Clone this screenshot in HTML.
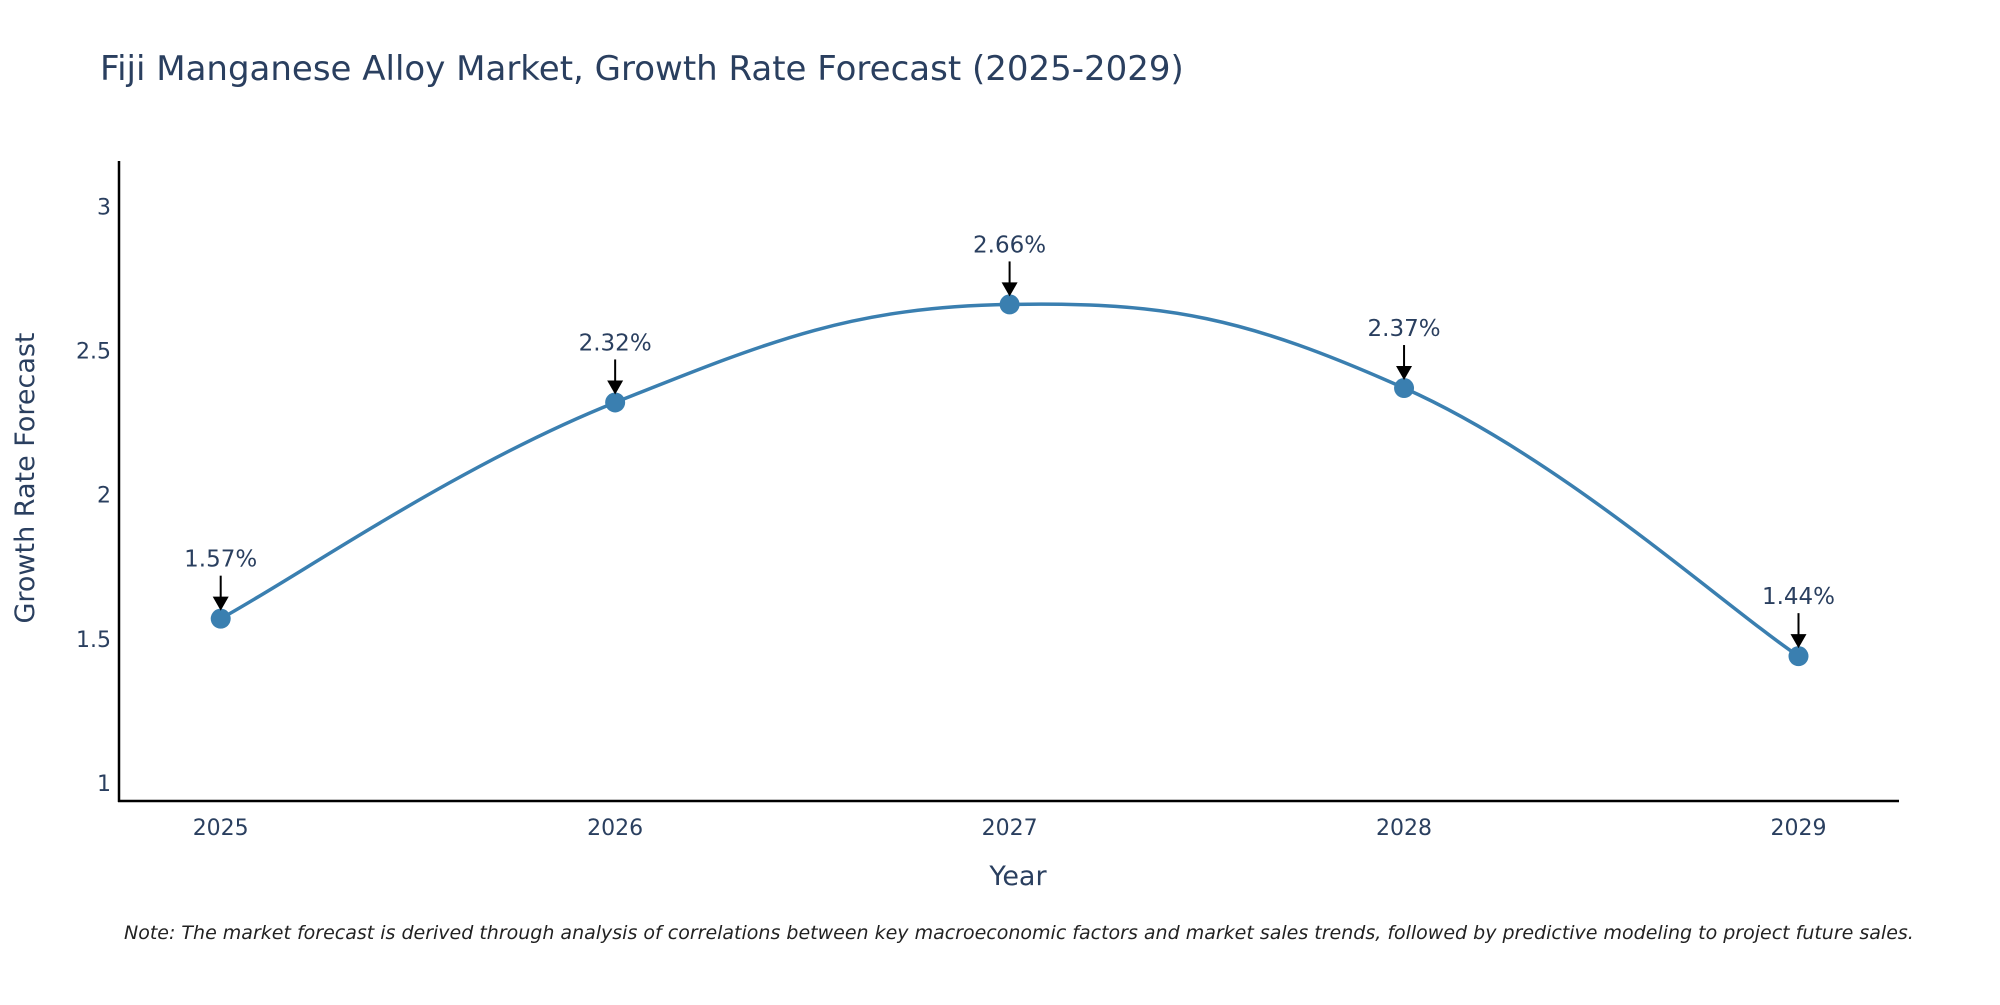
<!DOCTYPE html>
<html><head><meta charset="utf-8"><style>
body{margin:0;background:#fff;}
svg text{font-family:"DejaVu Sans","Liberation Sans",sans-serif;}
</style></head><body>
<svg width="2000" height="1000" xmlns="http://www.w3.org/2000/svg">
<rect width="2000" height="1000" fill="#fff"/>
<text x="100" y="80" font-size="34" fill="#2a3f5f">Fiji Manganese Alloy Market, Growth Rate Forecast (2025-2029)</text>
<g id="yticks"></g><g id="xticks"></g>
<line x1="119" y1="161" x2="119" y2="802" stroke="#000" stroke-width="2.5"/>
<line x1="118" y1="801" x2="1899" y2="801" stroke="#000" stroke-width="2.5"/>
<path id="curve" fill="none" stroke="#3a7fb0" stroke-width="3.5"/>
<g id="marks"></g>
<text x="1018" y="885" font-size="27" fill="#2a3f5f" text-anchor="middle">Year</text>
<text transform="translate(34,478) rotate(-90)" font-size="27" fill="#2a3f5f" text-anchor="middle">Growth Rate Forecast</text>
<text x="124" y="939" font-size="19" font-style="italic" fill="#222">Note: The market forecast is derived through analysis of correlations between key macroeconomic factors and market sales trends, followed by predictive modeling to project future sales.</text>
</svg>
<script>
const years=[2025,2026,2027,2028,2029];
const values=[1.57,2.32,2.66,2.37,1.44];
const labels=["1.57%","2.32%","2.66%","2.37%","1.44%"];
const yTicks=[1,1.5,2,2.5,3];
const yTickLabels=["1","1.5","2","2.5","3"];
const NS="http://www.w3.org/2000/svg";
function X(yr){return 220.7+(yr-2025)*394.45;}
function Y(v){return 783-(v-1)*288.3;}
function mk(t,a,p){const e=document.createElementNS(NS,t);for(const k in a)e.setAttribute(k,a[k]);p.appendChild(e);return e;}
const yt=document.getElementById('yticks');
yTicks.forEach((v,i)=>{const t=mk('text',{x:111,y:Y(v)+8,'font-size':22,fill:'#2a3f5f','text-anchor':'end'},yt);t.textContent=yTickLabels[i];

});
const xt=document.getElementById('xticks');
years.forEach(yr=>{const t=mk('text',{x:X(yr),y:835,'font-size':22,fill:'#2a3f5f','text-anchor':'middle'},xt);t.textContent=yr;

});
const pts=years.map((yr,i)=>[X(yr),Y(values[i])]);
let d='M'+pts[0][0]+','+pts[0][1];const s=0.2;
for(let i=0;i<pts.length-1;i++){const p0=pts[Math.max(i-1,0)],p1=pts[i],p2=pts[i+1],p3=pts[Math.min(i+2,pts.length-1)];
d+=' C'+(p1[0]+(p2[0]-p0[0])*s)+','+(p1[1]+(p2[1]-p0[1])*s)+' '+(p2[0]-(p3[0]-p1[0])*s)+','+(p2[1]-(p3[1]-p1[1])*s)+' '+p2[0]+','+p2[1];}
document.getElementById('curve').setAttribute('d',d);
const m=document.getElementById('marks');
pts.forEach((p,i)=>{
const c=mk('circle',{cx:p[0],cy:p[1],r:10,fill:'#3a7fb0'},m);


const l=mk('line',{x1:p[0],y1:p[1]-43,x2:p[0],y2:p[1]-20,stroke:'#000','stroke-width':2},m);


const h=mk('polygon',{points:(p[0]-8)+','+(p[1]-22)+' '+(p[0]+8)+','+(p[1]-22)+' '+p[0]+','+(p[1]-8),fill:'#000'},m);


const t=mk('text',{x:p[0],y:p[1]-52,'font-size':23,fill:'#2a3f5f','text-anchor':'middle'},m);t.textContent=labels[i];

});
</script>
</body></html>
